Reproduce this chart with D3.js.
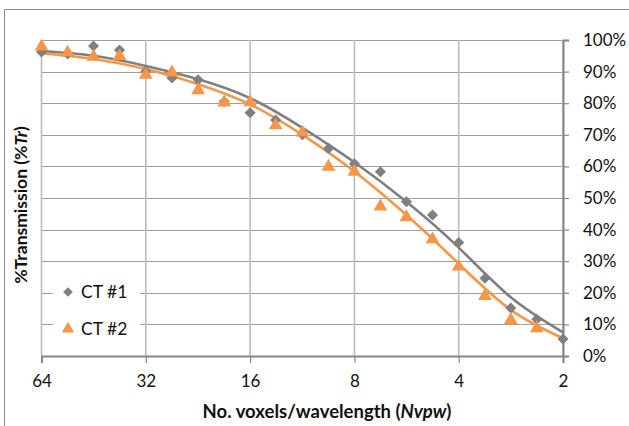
<!DOCTYPE html>
<html><head><meta charset="utf-8">
<script src="https://cdn.jsdelivr.net/npm/d3@7"></script>
<style>
html,body{margin:0;padding:0;background:#fff;}
svg{display:block;font-family:Lato, "Liberation Sans", sans-serif;}
</style></head>
<body>
<svg id="c" width="629" height="426"></svg>
<script>
// ---- data ----
const voxels = [64, 53.8, 45.3, 38.1, 32, 26.9, 22.6, 19.0, 16, 13.5, 11.3, 9.5, 8, 6.73, 5.66, 4.76, 4, 3.36, 2.83, 2.38, 2];
const ct1 = [96.2, 95.6, 98.1, 96.8, 90.0, 88.0, 87.4, 80.5, 77.0, 74.7, 70.0, 65.7, 60.8, 58.3, 48.8, 44.6, 35.9, 24.6, 15.2, 11.6, 5.4];
const ct2 = [97.9, 96.0, 94.7, 94.9, 89.0, 89.7, 84.1, 80.2, 80.3, 73.0, 70.7, 59.9, 58.3, 47.3, 43.9, 36.9, 28.3, 19.0, 11.4, 8.8, null];
const trendX = [64, 45.3, 32, 22.6, 16, 11.3, 8, 5.66, 4, 2.83, 2];
const trend1 = [96.5, 95.0, 91.8, 87.6, 81.6, 72.2, 61.3, 48.8, 34.3, 18.6, 7.5];
const trend2 = [95.8, 94.0, 90.8, 86.0, 79.6, 70.0, 58.4, 44.6, 29.2, 14.6, 5.6];
const xTicks = [64, 32, 16, 8, 4, 2];
const yTicks = [0, 10, 20, 30, 40, 50, 60, 70, 80, 90, 100];
const seriesNames = ["CT #1", "CT #2"];
const colors = ["#7f7f7f", "#f79646"];

// ---- layout ----
const svg = d3.select("#c");
const L = 41.5, R = 563, T = 40, B = 356;
const x = d3.scaleLog().base(2).domain([64, 2]).range([L, R]);
const y = d3.scaleLinear().domain([0, 100]).range([B, T]);

// outer border
svg.append("rect").attr("x", 4.5).attr("y", 9.5).attr("width", 640).attr("height", 440)
  .attr("fill", "none").attr("stroke", "#8c8c8c").attr("stroke-width", 1);

// gridlines
const g = svg.append("g");
g.selectAll(".hg").data(yTicks).join("line")
  .attr("x1", L).attr("x2", R).attr("y1", d => Math.round(y(d)) + 0.5).attr("y2", d => Math.round(y(d)) + 0.5)
  .attr("stroke", "#9f9f9f").attr("stroke-width", 1.2);
g.selectAll(".vg").data(xTicks).join("line")
  .attr("x1", d => x(d)).attr("x2", d => x(d)).attr("y1", T).attr("y2", B)
  .attr("stroke", "#bcbcbc").attr("stroke-width", 1.6);

// right axis
const yAxis = d3.axisRight(y).tickValues(yTicks).tickSize(6).tickPadding(14).tickFormat(d => d + "%");
const ya = svg.append("g").attr("transform", `translate(${R},0)`).call(yAxis);
ya.select(".domain").attr("stroke", "#868686").attr("stroke-width", 2);
ya.selectAll(".tick line").attr("stroke", "#868686").attr("stroke-width", 1.2);
ya.selectAll("text").attr("font-size", 17).attr("fill", "#111").attr("font-family", "Lato, sans-serif");

// bottom axis
const xAxis = d3.axisBottom(x).tickValues(xTicks).tickSize(7).tickPadding(12).tickFormat(d3.format("d"));
const xa = svg.append("g").attr("transform", `translate(0,${B})`).call(xAxis);
xa.select(".domain").attr("stroke", "#868686").attr("stroke-width", 2);
xa.selectAll(".tick line").attr("stroke", "#868686").attr("stroke-width", 1.2);
xa.selectAll("text").attr("font-size", 17).attr("fill", "#111").attr("font-family", "Lato, sans-serif");

// trend lines
const line = d3.line().x(d => x(d[0])).y(d => y(d[1])).curve(d3.curveNatural);
[trend1, trend2].forEach((t, i) => {
  svg.append("path").datum(trendX.map((v, j) => [v, t[j]]))
    .attr("d", line).attr("fill", "none").attr("stroke", colors[i]).attr("stroke-width", 2.6);
});

// markers
const diamond = d3.symbol().type(d3.symbolDiamond2).size(78);
const tri = d3.symbol().type(d3.symbolTriangle).size(82);
svg.append("g").selectAll("path").data(voxels.map((v, i) => [v, ct1[i]]))
  .join("path").attr("d", diamond)
  .attr("transform", d => `translate(${x(d[0])},${y(d[1])})`).attr("fill", colors[0]);
svg.append("g").selectAll("path").data(voxels.map((v, i) => [v, ct2[i]]).filter(d => d[1] != null))
  .join("path").attr("d", tri)
  .attr("transform", d => `translate(${x(d[0])},${y(d[1])})`).attr("fill", colors[1]);

// legend
const lg = svg.append("g");
lg.append("rect").attr("x", 53).attr("y", 278).attr("width", 87).attr("height", 66).attr("fill", "#fff");
[0, 1].forEach(i => {
  const cy = 292 + i * 37;
  lg.append("path").attr("d", i === 0 ? d3.symbol().type(d3.symbolDiamond2).size(60)() : d3.symbol().type(d3.symbolTriangle).size(66)())
    .attr("transform", `translate(68,${cy})`).attr("fill", colors[i]);
  lg.append("text").attr("x", 81).attr("y", cy + 6).attr("font-size", 17.5).attr("fill", "#111")
    .text(seriesNames[i]);
});

// axis titles
const xt = svg.append("text").attr("x", 327).attr("y", 418).attr("text-anchor", "middle")
  .attr("font-size", 18.5).attr("font-weight", "bold").attr("fill", "#111");
xt.append("tspan").text("No. voxels/wavelength (");
xt.append("tspan").attr("font-style", "italic").text("Nvpw");
xt.append("tspan").text(")");

const yt = svg.append("text").attr("transform", "translate(26.5,205) rotate(-90)").attr("text-anchor", "middle")
  .attr("font-size", 17.5).attr("font-weight", "bold").attr("fill", "#111");
yt.append("tspan").text("%Transmission (%");
yt.append("tspan").attr("font-style", "italic").text("Tr");
yt.append("tspan").text(")");
</script>
</body></html>
